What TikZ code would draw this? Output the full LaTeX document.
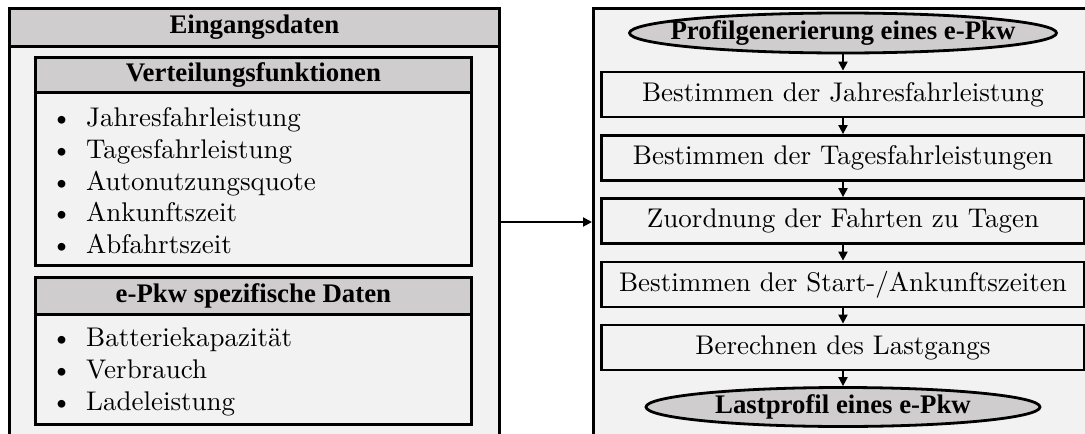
\documentclass[tikz,border=0pt]{standalone}
\usepackage{fontspec}
\newfontfamily\headfont{Liberation Serif}
\newfontfamily\bodyfont{lmroman10-regular.otf}
\usetikzlibrary{arrows.meta,shapes.geometric}
\definecolor{hdrgray}{RGB}{207,205,206}
\definecolor{panel}{RGB}{242,242,242}
\newcommand\bodysize{\bodyfont\fontsize{27}{31}\selectfont}
\newcommand\headsize{\headfont\bfseries\fontsize{26.8}{31}\selectfont}
\tikzset{
  frame/.style={draw=black, line width=2.8pt, fill=panel, inner sep=0pt, anchor=north west},
  headband/.style={draw=black, line width=2.8pt, fill=hdrgray, inner sep=0pt, anchor=north west,
    font=\headsize},
  listitem/.style={anchor=base west, inner sep=0pt, font=\bodysize},
  stepbox/.style={draw=black, line width=2.8pt, fill=panel, inner sep=0pt,
    minimum width=483pt, minimum height=45pt, font=\bodysize},
  terminal/.style={ellipse, draw=black, line width=2.8pt, fill=hdrgray,
    inner xsep=-40pt, inner ysep=0pt, font=\headsize},
  flow/.style={-{Triangle[length=9pt,width=9pt]}, line width=2pt},
}
\newcommand\bul[1]{\makebox[35pt][l]{\textbullet}#1}
\begin{document}
\begin{tikzpicture}[x=1pt,y=-1pt]
\useasboundingbox (0,0) rectangle (1085,434);
\clip (0,0) rectangle (1085,434);

% input data panel
\node[frame, minimum width=490pt, minimum height=470pt] (inputs) at (8,7) {};
\node[headband, minimum width=490pt, minimum height=38pt] (inputsTitle) at (8,7) {Eingangsdaten};

% distribution functions
\node[frame, minimum width=436pt, minimum height=208pt] (distBox) at (34,56) {};
\node[headband, minimum width=436pt, minimum height=35pt] (distTitle) at (34,56) {Verteilungsfunktionen};
\node[listitem] (d1) at (51,126.5) {\bul{Jahresfahrleistung}};
\node[listitem] (d2) at (51,158.3) {\bul{Tagesfahrleistung}};
\node[listitem] (d3) at (51,190.1) {\bul{Autonutzungsquote}};
\node[listitem] (d4) at (51,221.9) {\bul{Ankunftszeit}};
\node[listitem] (d5) at (51,253.7) {\bul{Abfahrtszeit}};

% vehicle specific data
\node[frame, minimum width=436pt, minimum height=147pt] (carBox) at (34,276) {};
\node[headband, minimum width=436pt, minimum height=37pt] (carTitle) at (34,276) {e-Pkw spezifische Daten};
\node[listitem] (c1) at (51,346) {\bul{Batteriekapazität}};
\node[listitem] (c2) at (51,378) {\bul{Verbrauch}};
\node[listitem] (c3) at (51,410) {\bul{Ladeleistung}};

% profile generation panel
\node[frame, minimum width=520pt, minimum height=470pt] (process) at (592,7) {};
\node[terminal, minimum width=427pt, minimum height=40pt] (start) at (843,33) {Profilgenerierung eines e-Pkw};
\node[stepbox] (s1) at (843,94.5) {Bestimmen der Jahresfahrleistung};
\node[stepbox] (s2) at (843,158) {Bestimmen der Tagesfahrleistungen};
\node[stepbox] (s3) at (843,221) {Zuordnung der Fahrten zu Tagen};
\node[stepbox] (s4) at (843,284.5) {Bestimmen der Start-/Ankunftszeiten};
\node[stepbox] (s5) at (843,347.5) {Berechnen des Lastgangs};
\node[terminal, minimum width=394pt, minimum height=39pt] (stop) at (843,407) {Lastprofil eines e-Pkw};

\draw[flow] (start.south) -- (s1.north);
\draw[flow] (s1.south) -- (s2.north);
\draw[flow] (s2.south) -- (s3.north);
\draw[flow] (s3.south) -- (s4.north);
\draw[flow] (s4.south) -- (s5.north);
\draw[flow] (s5.south) -- (stop.north);

\draw[flow] ([yshift=-215pt]inputs.north east) -- ([yshift=-215pt]process.north west);
\end{tikzpicture}
\end{document}
